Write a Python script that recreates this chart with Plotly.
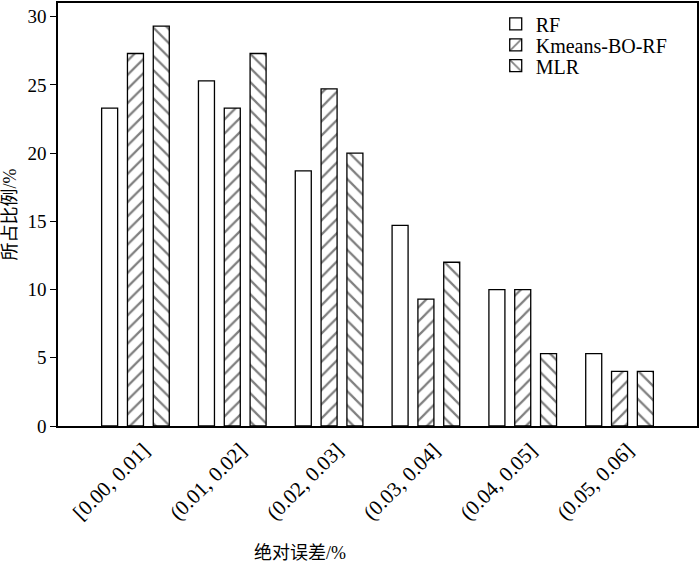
import plotly.graph_objects as go

categories = ["[0.00, 0.01]", "(0.01, 0.02]", "(0.02, 0.03]", "(0.03, 0.04]", "(0.04, 0.05]", "(0.05, 0.06]"]
rf = [23.3, 25.3, 18.7, 14.7, 10.0, 5.3]
kmeans_bo_rf = [27.3, 23.3, 24.7, 9.3, 10.0, 4.0]
mlr = [29.3, 27.3, 20.0, 12.0, 5.3, 4.0]

FONT = "Liberation Serif"
CJK = "Liberation Serif, Noto Sans CJK SC"

fig = go.Figure()
fig.add_trace(go.Bar(name="RF", x=categories, y=rf, legend="legend",
                     marker=dict(color="white", line=dict(color="black", width=1.3))))
fig.add_trace(go.Bar(name="Kmeans-BO-RF", x=categories, y=kmeans_bo_rf, legend="legend2",
                     marker=dict(color="white", line=dict(color="black", width=1.3),
                                 pattern=dict(shape="/", fgcolor="black", bgcolor="white",
                                              size=10, solidity=0.22, fillmode="overlay"))))
fig.add_trace(go.Bar(name="MLR", x=categories, y=mlr, legend="legend3",
                     marker=dict(color="white", line=dict(color="black", width=1.3),
                                 pattern=dict(shape="\\", fgcolor="black", bgcolor="white",
                                              size=10, solidity=0.22, fillmode="overlay"))))

leg_common = dict(x=0.685, xanchor="left", yanchor="middle",
                  bgcolor="rgba(0,0,0,0)", borderwidth=0,
                  font=dict(family=FONT, size=20, color="black"))

fig.update_layout(
    width=700, height=563, autosize=False,
    margin=dict(l=58, r=1, t=1, b=137),
    paper_bgcolor="white", plot_bgcolor="white",
    barmode="group", bargap=0.2, bargroupgap=0.38,
    font=dict(family=FONT, size=18, color="black"),
    showlegend=True,
    legend=dict(y=0.9506, **leg_common),
    legend2=dict(y=0.901, **leg_common),
    legend3=dict(y=0.8518, **leg_common),
    xaxis=dict(range=[-0.8, 5.8], showline=True, linecolor="black", linewidth=1.5,
               mirror=True, ticks="", tickangle=-45, showgrid=False,
               ticklabelshift=8, ticklabelstandoff=2,
               tickfont=dict(family=FONT, size=21, color="black")),
    yaxis=dict(range=[0, 31], showline=True, linecolor="black", linewidth=1.5,
               mirror=True, ticks="outside", ticklen=6, tickwidth=1.3, tickcolor="black",
               tickvals=[0, 5, 10, 15, 20, 25, 30], showgrid=False, zeroline=False,
               tickfont=dict(family=FONT, size=19, color="black"),
               title=dict(text="所占比例/%", standoff=14,
                          font=dict(family=CJK, size=18, color="black"))),
)

fig.add_annotation(text="绝对误差/%", xref="paper", yref="paper",
                   x=0.379, y=-0.3, xanchor="center", yanchor="middle",
                   showarrow=False,
                   font=dict(family=CJK, size=18, color="black"))

fig.write_html("out.html", config={"displayModeBar": False},
               post_script="document.body.style.margin='0';")
